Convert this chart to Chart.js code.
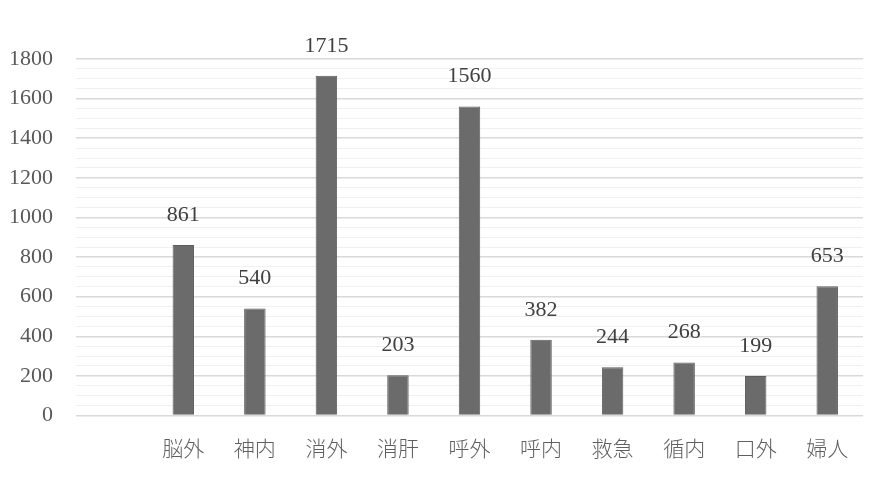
<!DOCTYPE html>
<html>
<head>
<meta charset="utf-8">
<script src="https://cdn.jsdelivr.net/npm/chart.js@4"></script>
<style>
    html, body { margin: 0; padding: 0; background: #ffffff; }
    #wrap { width: 890px; height: 480px; }
</style>
</head>
<body>
<div id="wrap"><canvas id="chart" width="890" height="480"></canvas></div>
<script>
// first slot is left empty in the original chart
const departments = ['', '脳外', '神内', '消外', '消肝', '呼外', '呼内', '救急', '循内', '口外', '婦人'];
const patientCounts = [null, 861, 540, 1715, 203, 1560, 382, 244, 268, 199, 653];

const FONT = "'Liberation Serif', 'DejaVu Serif', 'Noto Sans CJK JP', serif";

// Draw the value above each bar
const valueLabels = {
    id: 'valueLabels',
    afterDatasetsDraw(chart) {
        const ctx = chart.ctx;
        const meta = chart.getDatasetMeta(0);
        ctx.save();
        ctx.font = '22px ' + FONT;
        ctx.fillStyle = '#404040';
        ctx.textAlign = 'center';
        ctx.textBaseline = 'middle';
        meta.data.forEach((bar, i) => {
            const v = patientCounts[i];
            if (v == null) return;
            ctx.fillText(String(v), bar.x, bar.y - 30);
        });
        ctx.restore();
    }
};

const ctx = document.getElementById('chart').getContext('2d');
new Chart(ctx, {
    type: 'bar',
    data: {
        labels: departments,
        datasets: [{
            data: patientCounts,
            backgroundColor: '#6b6b6b',
            borderColor: '#5c5c5c',
            borderWidth: 1,
            categoryPercentage: 1,
            barPercentage: 0.3,
        }],
    },
    options: {
        responsive: false,
        animation: false,
        layout: {
            padding: { left: 8, right: 27, top: 59, bottom: 20 },
        },
        plugins: {
            legend: { display: false },
            tooltip: { enabled: false },
        },
        scales: {
            x: {
                grid: { display: false },
                border: { display: false },
                afterFit: (scale) => { scale.height = 44.5; },
                ticks: {
                    color: '#5f5f5f',
                    font: { family: FONT, size: 21, weight: 300 },
                    padding: 14,
                    maxRotation: 0,
                    autoSkip: false,
                },
            },
            y: {
                min: 0,
                max: 1800,
                border: { display: false },
                afterFit: (scale) => { scale.width = 68; },
                grid: {
                    drawTicks: false,
                    color: (c) => (c.tick && c.tick.value % 200 === 0) ? '#d9d9d9' : '#f0f0f0',
                    lineWidth: (c) => (c.tick && c.tick.value % 200 === 0) ? 1.5 : 1,
                },
                ticks: {
                    stepSize: 50,
                    autoSkip: false,
                    color: '#595959',
                    font: { family: FONT, size: 22 },
                    padding: 23,
                    callback: (value) => value % 200 === 0 ? value : '',
                },
            },
        },
    },
    plugins: [valueLabels],
});
</script>
</body>
</html>
